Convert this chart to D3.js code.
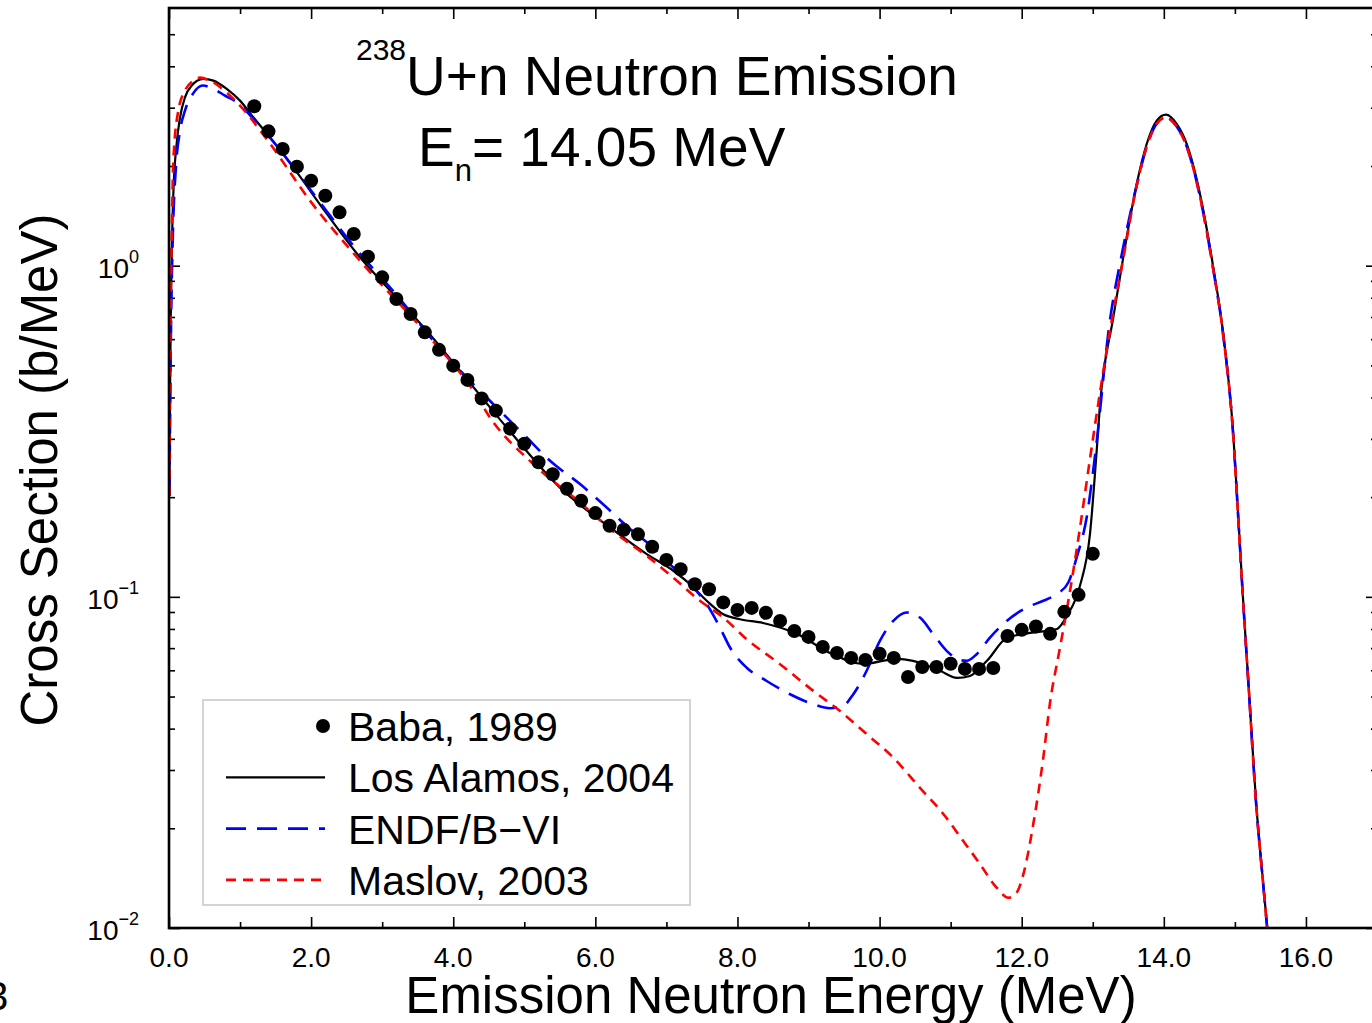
<!DOCTYPE html>
<html>
<head>
<meta charset="utf-8">
<script src="https://cdn.jsdelivr.net/npm/d3@7"></script>
<style>
  body { margin: 0; background: #fff; }
  svg { display: block; }
  text { font-family: "Liberation Sans", Arial, Helvetica, sans-serif; fill: #000; }
</style>
</head>
<body>
<svg id="chart" width="1372" height="1023"></svg>
<script>
// Baba (1989) measured emission spectrum: energy (MeV) and cross section (b/MeV)
const babaEnergy = [1.2, 1.4, 1.6, 1.8, 2.0, 2.2, 2.4, 2.6, 2.8, 3.0,
  3.2, 3.4, 3.6, 3.8, 4.0, 4.2, 4.4, 4.6, 4.8, 5.0,
  5.2, 5.4, 5.6, 5.8, 6.0, 6.2, 6.4, 6.6, 6.8, 7.0,
  7.2, 7.4, 7.6, 7.8, 8.0, 8.2, 8.4, 8.6, 8.8, 9.0,
  9.2, 9.4, 9.6, 9.8, 10.0, 10.2, 10.4, 10.6, 10.8, 11.0,
  11.2, 11.4, 11.6, 11.8, 12.0, 12.2, 12.4, 12.6, 12.8, 13.0];
const babaXS = [3.03, 2.545, 2.252, 1.991, 1.806, 1.627, 1.449, 1.247, 1.065, 0.922,
  0.793, 0.715, 0.629, 0.557, 0.499, 0.452, 0.397, 0.365, 0.322, 0.290,
  0.255, 0.2345, 0.212, 0.195, 0.179, 0.164, 0.1594, 0.1544, 0.1416, 0.1293,
  0.1211, 0.1091, 0.1054, 0.0962, 0.0913, 0.0926, 0.0895, 0.0846, 0.0789, 0.0757,
  0.0706, 0.0677, 0.0654, 0.0645, 0.0673, 0.0654, 0.0573, 0.0614, 0.0614, 0.0628,
  0.0606, 0.0606, 0.061, 0.0762, 0.0795, 0.0814, 0.0773, 0.0901, 0.1014, 0.1349];

// Los Alamos (2004) evaluation: [energy, cross section]
const losAlamos = [[0.006, 0.202], [0.014, 0.41], [0.028, 0.784], [0.061, 1.65], [0.108, 2.337],
  [0.155, 2.80], [0.225, 3.225], [0.319, 3.499], [0.483, 3.665], [0.623, 3.622], [0.812, 3.42],
  [0.999, 3.151], [1.186, 2.806], [1.421, 2.441], [1.749, 1.981], [2.219, 1.436], [2.688, 1.06],
  [3.157, 0.821], [3.627, 0.636], [4.095, 0.4817], [4.752, 0.3247], [5.502, 0.2135], [6.206, 0.162],
  [6.723, 0.1346], [7.097, 0.1199], [7.332, 0.1092], [7.567, 0.0973], [7.800, 0.0886], [8.035, 0.0856],
  [8.359, 0.0834], [8.838, 0.0773], [9.302, 0.0677], [9.767, 0.0627], [10.245, 0.065], [10.470, 0.0641],
  [10.850, 0.0598], [11.089, 0.0569], [11.272, 0.0577], [11.511, 0.0641], [11.793, 0.0752], [12.117, 0.0778],
  [12.496, 0.08], [12.637, 0.0876], [12.820, 0.108], [12.961, 0.155], [13.055, 0.276], [13.101, 0.3776],
  [13.289, 0.698], [13.429, 1.06], [13.618, 1.765], [13.759, 2.331], [13.900, 2.742], [14.030, 2.859],
  [14.181, 2.68], [14.322, 2.331], [14.509, 1.646], [14.696, 0.988], [14.837, 0.622], [14.977, 0.31],
  [15.048, 0.1736], [15.114, 0.0993], [15.198, 0.052], [15.297, 0.0242], [15.395, 0.01387], [15.466, 0.00946]];

// ENDF/B-VI evaluation: [energy, cross section]
const endfB6 = [[0.006, 0.202], [0.028, 0.636], [0.056, 1.276], [0.099, 2.005], [0.155, 2.557],
  [0.225, 2.940], [0.338, 3.308], [0.478, 3.499], [0.619, 3.426], [0.788, 3.263], [0.999, 3.065],
  [1.182, 2.781], [1.421, 2.436], [1.745, 1.991], [2.223, 1.456], [2.688, 1.087], [3.152, 0.840],
  [3.860, 0.547], [4.282, 0.439], [4.658, 0.3646], [5.034, 0.3029], [5.362, 0.2575], [5.784, 0.2190],
  [6.160, 0.1861], [6.488, 0.1602], [6.815, 0.1409], [7.097, 0.1226], [7.378, 0.1067], [7.567, 0.0950],
  [7.754, 0.0808], [7.895, 0.0703], [8.130, 0.0611], [8.411, 0.0557], [8.740, 0.0508], [9.067, 0.0474],
  [9.302, 0.0461], [9.489, 0.0469], [9.630, 0.0508], [9.818, 0.0598], [10.004, 0.0736], [10.193, 0.0846],
  [10.381, 0.0897], [10.568, 0.0866], [10.756, 0.0771], [10.944, 0.0687], [11.131, 0.0644], [11.226, 0.0641],
  [11.366, 0.0671], [11.553, 0.0753], [11.789, 0.0846], [12.070, 0.0928], [12.304, 0.0973], [12.492, 0.1019],
  [12.656, 0.1105], [12.773, 0.1314], [12.914, 0.1736], [13.04, 0.2761], [13.24, 0.68], [13.40, 1.06],
  [13.618, 1.745], [13.759, 2.288], [13.900, 2.685], [14.030, 2.800], [14.181, 2.630], [14.322, 2.288],
  [14.509, 1.616], [14.696, 0.973], [14.837, 0.614], [14.977, 0.3065], [15.048, 0.1720], [15.114, 0.0986],
  [15.198, 0.0516], [15.297, 0.0240], [15.395, 0.0138], [15.466, 0.00939]];

// Maslov (2003) evaluation: [energy, cross section]
const maslov = [[0.006, 0.202], [0.021, 0.636], [0.042, 1.368], [0.061, 2.076], [0.131, 2.940],
  [0.225, 3.379], [0.342, 3.622], [0.436, 3.698], [0.577, 3.622], [0.812, 3.332], [0.999, 3.044],
  [1.421, 2.337], [1.984, 1.572], [2.688, 1.035], [3.627, 0.622], [4.282, 0.419], [4.517, 0.3480],
  [5.127, 0.2517], [5.784, 0.1927], [6.300, 0.1547], [6.723, 0.1330], [7.097, 0.1143], [7.472, 0.0973],
  [7.800, 0.0866], [8.130, 0.0745], [8.599, 0.0626], [9.067, 0.0520], [9.443, 0.0452], [9.818, 0.0385],
  [10.193, 0.0327], [10.568, 0.0265], [10.897, 0.0221], [11.178, 0.0183], [11.413, 0.0156], [11.648, 0.01323],
  [11.811, 0.01234], [11.929, 0.01279], [12.022, 0.0145], [12.163, 0.0206], [12.304, 0.0327], [12.398, 0.0478],
  [12.539, 0.0703], [12.680, 0.1042], [12.820, 0.1616], [12.961, 0.2611], [13.101, 0.4133], [13.242, 0.636],
  [13.429, 1.050], [13.618, 1.745], [13.759, 2.288], [13.900, 2.685], [14.030, 2.800], [14.181, 2.630],
  [14.322, 2.288], [14.509, 1.616], [14.696, 0.973], [14.837, 0.614], [14.977, 0.3065], [15.048, 0.1720],
  [15.114, 0.0986], [15.198, 0.0516], [15.297, 0.0240], [15.395, 0.0138], [15.466, 0.00939]];

// Axis ticks
const xMajorTicks = [0, 2, 4, 6, 8, 10, 12, 14, 16];
const xTickLabels = ["0.0", "2.0", "4.0", "6.0", "8.0", "10.0", "12.0", "14.0", "16.0"];
const xMinorTicks = [1, 3, 5, 7, 9, 11, 13, 15, 17];
const yMajorTicks = [0.01, 0.1, 1];
const yTickExponents = ["\u22122", "\u22121", "0"];
const yMinorTicks = [0.02, 0.03, 0.04, 0.05, 0.06, 0.07, 0.08, 0.09,
  0.2, 0.3, 0.4, 0.5, 0.6, 0.7, 0.8, 0.9, 2, 3, 4, 5];

const svg = d3.select("#chart");
const plot = { left: 169, top: 8, right: 1377, bottom: 928 };

const x = d3.scaleLinear().domain([0, 17]).range([plot.left, plot.right]);
const y = d3.scaleLog().domain([0.01, 6]).range([plot.bottom, plot.top]);

svg.append("defs").append("clipPath").attr("id", "plot-clip")
  .append("rect")
  .attr("x", plot.left).attr("y", plot.top)
  .attr("width", plot.right - plot.left).attr("height", plot.bottom - plot.top);

// ---- axes (ticks point into the plot on all four sides)
function styleAxis(g) {
  g.select(".domain").remove();
  g.selectAll(".tick line").attr("stroke", "#000").attr("stroke-width", 1.6);
}
const noLabel = () => "";

svg.append("g").attr("transform", `translate(0,${plot.bottom})`)
  .call(d3.axisBottom(x).tickValues(xMajorTicks).tickSize(-11).tickFormat(noLabel)).call(styleAxis);
svg.append("g").attr("transform", `translate(0,${plot.bottom})`)
  .call(d3.axisBottom(x).tickValues(xMinorTicks).tickSize(-6).tickFormat(noLabel)).call(styleAxis);
svg.append("g").attr("transform", `translate(0,${plot.top})`)
  .call(d3.axisTop(x).tickValues(xMajorTicks).tickSize(-11).tickFormat(noLabel)).call(styleAxis);
svg.append("g").attr("transform", `translate(0,${plot.top})`)
  .call(d3.axisTop(x).tickValues(xMinorTicks).tickSize(-6).tickFormat(noLabel)).call(styleAxis);

svg.append("g").attr("transform", `translate(${plot.left},0)`)
  .call(d3.axisLeft(y).tickValues(yMajorTicks).tickSize(-11).tickFormat(noLabel)).call(styleAxis);
svg.append("g").attr("transform", `translate(${plot.left},0)`)
  .call(d3.axisLeft(y).tickValues(yMinorTicks).tickSize(-6).tickFormat(noLabel)).call(styleAxis);
svg.append("g").attr("transform", `translate(${plot.right},0)`)
  .call(d3.axisRight(y).tickValues(yMajorTicks).tickSize(-11).tickFormat(noLabel)).call(styleAxis);
svg.append("g").attr("transform", `translate(${plot.right},0)`)
  .call(d3.axisRight(y).tickValues(yMinorTicks).tickSize(-6).tickFormat(noLabel)).call(styleAxis);

// x tick labels
svg.append("g").selectAll("text").data(xMajorTicks).join("text")
  .attr("x", d => x(d)).attr("y", plot.bottom + 39)
  .attr("text-anchor", "middle").attr("font-size", 28)
  .text((d, i) => xTickLabels[i]);

// y tick labels as powers of ten
const yLab = svg.append("g").selectAll("text").data(yMajorTicks).join("text")
  .attr("x", 139).attr("y", d => y(d) + 12)
  .attr("text-anchor", "end").attr("font-size", 28);
yLab.append("tspan").text("10");
yLab.append("tspan").attr("font-size", 18).attr("dy", -15).text((d, i) => yTickExponents[i]);

// ---- curves
const line = d3.line().x(d => x(d[0])).y(d => y(d[1])).curve(d3.curveMonotoneX);
const curves = svg.append("g").attr("clip-path", "url(#plot-clip)");

curves.append("path").datum(losAlamos).attr("d", line)
  .attr("fill", "none").attr("stroke", "#000").attr("stroke-width", 2.2);
curves.append("path").datum(endfB6).attr("d", line)
  .attr("fill", "none").attr("stroke", "#0000ff").attr("stroke-width", 2.6)
  .attr("stroke-dasharray", "20,11");
curves.append("path").datum(maslov).attr("d", line)
  .attr("fill", "none").attr("stroke", "#ff0000").attr("stroke-width", 2.6)
  .attr("stroke-dasharray", "10,7");

// measured points
curves.append("g").selectAll("circle").data(babaEnergy).join("circle")
  .attr("cx", d => x(d)).attr("cy", (d, i) => y(babaXS[i])).attr("r", 7)
  .attr("fill", "#000");

// frame
svg.append("rect")
  .attr("x", plot.left).attr("y", plot.top)
  .attr("width", plot.right - plot.left).attr("height", plot.bottom - plot.top)
  .attr("fill", "none").attr("stroke", "#000").attr("stroke-width", 2.6);

// ---- legend
const legend = svg.append("g");
legend.append("rect").attr("x", 203).attr("y", 700).attr("width", 487).attr("height", 205)
  .attr("fill", "#fff").attr("stroke", "#d4d4d4").attr("stroke-width", 2);
const legendRows = [
  { label: "Baba, 1989", type: "dot" },
  { label: "Los Alamos, 2004", color: "#000", dash: null, width: 2.2 },
  { label: "ENDF/B\u2212VI", color: "#0000ff", dash: "20,11", width: 2.6 },
  { label: "Maslov, 2003", color: "#ff0000", dash: "10,7", width: 2.6 }
];
legendRows.forEach((r, i) => {
  const cy = 726 + i * 51.3;
  if (r.type === "dot") {
    legend.append("circle").attr("cx", 323).attr("cy", cy).attr("r", 7).attr("fill", "#000");
  } else {
    legend.append("line").attr("x1", 226).attr("x2", 325).attr("y1", cy).attr("y2", cy)
      .attr("stroke", r.color).attr("stroke-width", r.width)
      .attr("stroke-dasharray", r.dash);
  }
  legend.append("text").attr("x", 348).attr("y", cy + 15).attr("font-size", 41).text(r.label);
});

// ---- titles
const t1 = svg.append("text").attr("x", 356).attr("y", 95).attr("font-size", 55);
t1.append("tspan").attr("font-size", 30).attr("dy", -35).text("238");
t1.append("tspan").attr("dy", 35).text("U+n Neutron Emission");

const t2 = svg.append("text").attr("x", 418).attr("y", 166).attr("font-size", 55);
t2.append("tspan").text("E");
t2.append("tspan").attr("font-size", 31).attr("dy", 15).text("n");
t2.append("tspan").attr("dy", -15).text("= 14.05 MeV");

svg.append("text").attr("x", 771).attr("y", 1013).attr("text-anchor", "middle")
  .attr("font-size", 51).text("Emission Neutron Energy (MeV)");

svg.append("text").attr("transform", "translate(57,470) rotate(-90)")
  .attr("text-anchor", "middle").attr("font-size", 51).text("Cross Section (b/MeV)");

// neighbouring panel character at the page edge
svg.append("text").attr("x", -14).attr("y", 1010).attr("font-size", 40).text("3");
</script>
</body>
</html>
